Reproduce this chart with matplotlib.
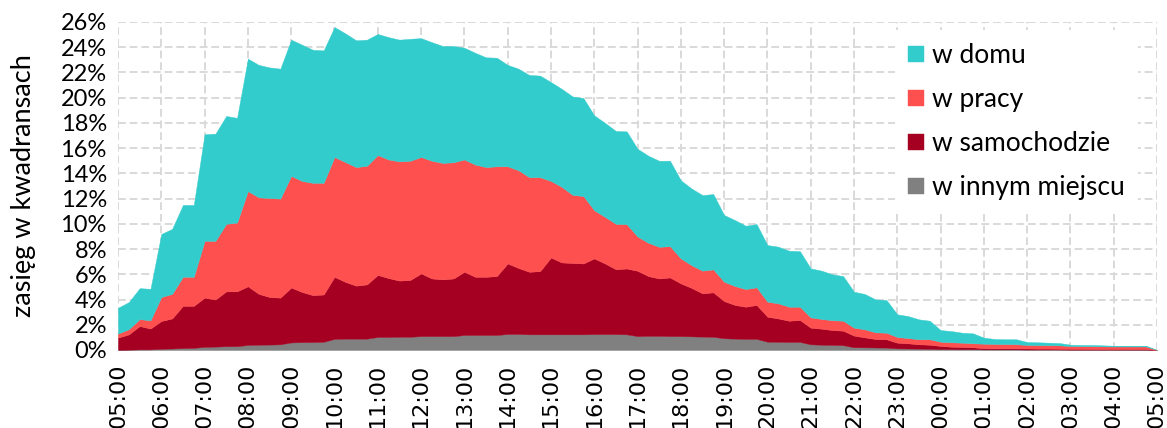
import matplotlib
matplotlib.use("Agg")
import matplotlib.pyplot as plt

# ---
# DATA (share of reach per quarter hour, in %)
# -----
hour_labels = ["05:00", "06:00", "07:00", "08:00", "09:00", "10:00", "11:00", "12:00",
               "13:00", "14:00", "15:00", "16:00", "17:00", "18:00", "19:00", "20:00",
               "21:00", "22:00", "23:00", "00:00", "01:00", "02:00", "03:00", "04:00", "05:00"]

w_domu = [2.05, 2.15, 2.45, 2.5, 5.0, 5.15, 5.7, 5.7, 8.45, 8.5, 8.55, 8.3,
          10.5, 10.5, 10.35, 10.3, 10.8, 10.8, 10.55, 10.5, 10.3, 10.2, 10.05, 10.0,
          9.6, 9.7, 9.65, 9.67, 9.42, 9.4, 9.27, 9.22, 8.86, 8.86, 8.7, 8.61,
          8.04, 8.05, 8.1, 8.05, 7.84, 7.77, 7.8, 7.77, 7.52, 7.45, 7.36, 7.36,
          6.95, 6.9, 6.82, 6.77, 6.19, 6.08, 5.99, 5.97, 5.29, 5.23, 5.02, 5.01,
          4.49, 4.49, 4.44, 4.41, 3.88, 3.83, 3.64, 3.54, 2.85, 2.8, 2.61, 2.59,
          1.8, 1.74, 1.58, 1.47, 0.92, 0.89, 0.79, 0.79, 0.48, 0.39, 0.38, 0.39,
          0.23, 0.22, 0.2, 0.18, 0.11, 0.1, 0.1, 0.08, 0.06, 0.06, 0.06, 0.06, 0.0]

w_pracy = [0.32, 0.41, 0.55, 0.65, 1.9, 1.95, 2.3, 2.3, 4.5, 4.65, 5.35, 5.45,
           7.55, 7.65, 7.85, 7.85, 8.85, 8.8, 8.9, 8.85, 9.5, 9.5, 9.4, 9.4,
           9.5, 9.4, 9.45, 9.45, 9.23, 9.33, 9.23, 9.21, 8.9, 8.9, 8.7, 8.7,
           7.7, 7.75, 7.5, 7.45, 6.07, 5.99, 5.4, 5.34, 3.82, 3.69, 3.6, 3.51,
           2.72, 2.64, 2.51, 2.48, 1.98, 1.8, 1.8, 1.82, 1.53, 1.5, 1.4, 1.4,
           1.19, 1.2, 1.11, 1.05, 0.82, 0.77, 0.78, 0.79, 0.63, 0.64, 0.53, 0.52,
           0.45, 0.42, 0.4, 0.43, 0.34, 0.35, 0.34, 0.32, 0.35, 0.34, 0.33, 0.33,
           0.28, 0.28, 0.27, 0.27, 0.22, 0.21, 0.22, 0.21, 0.2, 0.2, 0.2, 0.2, 0.0]

w_samochodzie = [0.96, 1.21, 1.85, 1.65, 2.2, 2.38, 3.35, 3.33, 3.9, 3.73, 4.35, 4.35,
                 4.65, 4.03, 3.77, 3.7, 4.35, 3.98, 3.72, 3.75, 4.92, 4.5, 4.2, 4.3,
                 4.92, 4.67, 4.45, 4.5, 4.97, 4.57, 4.5, 4.57, 5.01, 4.61, 4.61, 4.67,
                 5.59, 5.23, 4.96, 5.01, 6.09, 5.7, 5.66, 5.62, 6.0, 5.6, 5.14, 5.22,
                 5.18, 4.74, 4.55, 4.65, 4.18, 3.84, 3.43, 3.52, 2.95, 2.67, 2.55, 2.69,
                 1.98, 1.85, 1.68, 1.74, 1.32, 1.27, 1.18, 1.15, 0.92, 0.79, 0.67, 0.66,
                 0.45, 0.41, 0.34, 0.32, 0.25, 0.19, 0.18, 0.15, 0.1, 0.09, 0.09, 0.08,
                 0.08, 0.07, 0.07, 0.06, 0.06, 0.06, 0.05, 0.05, 0.05, 0.05, 0.05, 0.05, 0.0]

w_innym = [0.02, 0.03, 0.05, 0.05, 0.1, 0.12, 0.15, 0.17, 0.25, 0.27, 0.3, 0.3,
           0.4, 0.42, 0.43, 0.45, 0.6, 0.62, 0.63, 0.65, 0.88, 0.9, 0.9, 0.9,
           1.03, 1.03, 1.05, 1.05, 1.1, 1.1, 1.1, 1.1, 1.19, 1.19, 1.19, 1.19,
           1.27, 1.27, 1.24, 1.24, 1.24, 1.24, 1.24, 1.24, 1.26, 1.26, 1.26, 1.24,
           1.1, 1.12, 1.12, 1.1, 1.1, 1.08, 1.06, 1.05, 0.93, 0.9, 0.88, 0.88,
           0.66, 0.65, 0.64, 0.64, 0.45, 0.42, 0.4, 0.38, 0.22, 0.21, 0.2, 0.19,
           0.13, 0.12, 0.11, 0.1, 0.07, 0.07, 0.06, 0.06, 0.05, 0.05, 0.05, 0.05,
           0.04, 0.04, 0.04, 0.04, 0.03, 0.03, 0.03, 0.03, 0.03, 0.03, 0.03, 0.03, 0.0]

labels = ["w innym miejscu", "w samochodzie", "w pracy", "w domu"]
colors = ["#808080", "#A50021", "#FF5050", "#33CCCC"]

# ---
# PLOT
# -----
fig = plt.figure(figsize=(11.67, 4.28), dpi=100)
ax = fig.add_axes([118 / 1167, 1 - 350 / 428, 1039 / 1167, 328 / 428])

quarters = list(range(len(w_domu)))
polys = ax.stackplot(quarters, w_innym, w_samochodzie, w_pracy, w_domu,
                     colors=colors, labels=labels, linewidth=0.3)
for p, c in zip(polys, colors):
    p.set_edgecolor(c)

ax.set_xlim(0, len(quarters) - 1)
ax.set_ylim(0, 26)
ax.set_xticks(range(0, len(quarters), 4))
ax.set_xticklabels(hour_labels, rotation=90, fontsize=16, family="DejaVu Sans")
ax.set_yticks(range(0, 27, 2))
ax.set_yticklabels([f"{v}%" for v in range(0, 27, 2)], fontsize=17, family="Lato")
ax.tick_params(length=0, pad=8)
ax.tick_params(axis="x", pad=10)

ax.grid(True, color="#d9d9d9", linestyle=(0, (4, 2)), linewidth=1.4)
ax.set_axisbelow(True)
for s in ax.spines.values():
    s.set_visible(False)

ax.set_ylabel("zasięg w kwadransach", fontsize=19.5, family="Lato", labelpad=18)

handles, labs = ax.get_legend_handles_labels()
leg = ax.legend(handles[::-1], labs[::-1], loc="upper left", bbox_to_anchor=(0.748, 0.975),
                prop={"family": "Lato", "size": 19}, frameon=True, fancybox=False,
                handlelength=0.58, handleheight=0.58, handletextpad=0.3,
                labelspacing=0.72, borderpad=0.5, borderaxespad=0)
leg.get_frame().set_facecolor("white")
leg.get_frame().set_edgecolor("none")
leg.get_frame().set_alpha(1)

fig.savefig("out.png", dpi=100)
